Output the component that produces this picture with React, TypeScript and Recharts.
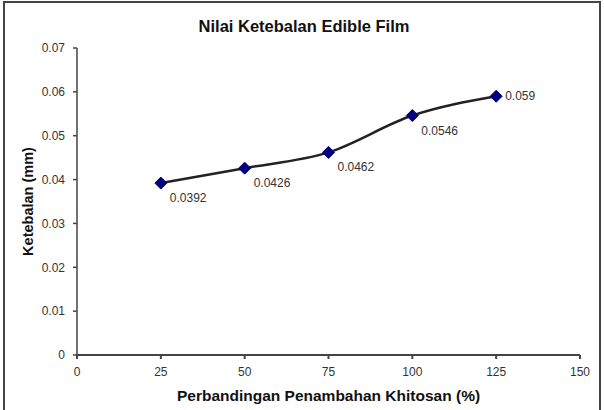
import { LineChart, Line, XAxis, YAxis, LabelList, Label } from "recharts";

const xValues = [25, 50, 75, 100, 125];
const thickness = [0.0392, 0.0426, 0.0462, 0.0546, 0.059];
const xTicks = [0, 25, 50, 75, 100, 125, 150];
const yTicks = [0, 0.01, 0.02, 0.03, 0.04, 0.05, 0.06, 0.07];

const data = xValues.map((x, i) => ({ x, value: thickness[i] }));

const FONT = '"Liberation Sans", Arial, sans-serif';
const INK = "#333333";

function Diamond(props: any) {
  const { cx, cy } = props;
  if (cx == null || cy == null) return null;
  const r = 6;
  return (
    <polygon
      points={`${cx},${cy - r} ${cx + r},${cy} ${cx},${cy + r} ${cx - r},${cy}`}
      fill="#000080"
      stroke="#000080"
      strokeWidth={1}
    />
  );
}

function PointLabel(props: any) {
  const { x, y, value, index } = props;
  const last = index === data.length - 1;
  return (
    <text
      x={x + (last ? 9 : 9)}
      y={y + (last ? 4 : 19)}
      fill={INK}
      fontSize={12}
      fontFamily={FONT}
    >
      {value}
    </text>
  );
}

export default function App() {
  return (
    <div
      style={{
        position: "absolute",
        left: 0,
        top: 0,
        width: 604,
        height: 410,
        overflow: "hidden",
        background: "#fff",
        fontFamily: FONT,
      }}
    >
      <div
        style={{
          position: "absolute",
          left: 3,
          top: 1,
          width: 594,
          height: 440,
          border: "2px solid #444",
          boxSizing: "content-box",
        }}
      />
      <div
        style={{
          position: "absolute",
          left: 0,
          top: 17,
          width: 608,
          textAlign: "center",
          fontWeight: "bold",
          fontSize: 16.5,
          color: "#111",
        }}
      >
        Nilai Ketebalan Edible Film
      </div>
      <div style={{ position: "absolute", left: 0, top: 0 }}>
        <LineChart
          width={604}
          height={410}
          data={data}
          margin={{ top: 48, right: 24, bottom: 25, left: 10 }}
        >
          <XAxis
            dataKey="x"
            type="number"
            domain={[0, 150]}
            ticks={xTicks}
            height={30}
            stroke="#444"
            strokeWidth={2}
            tickSize={4}
            tickMargin={8}
            tick={{ fill: INK, fontSize: 12, fontFamily: FONT }}
          >
            <Label
              value="Perbandingan Penambahan Khitosan (%)"
              position="bottom"
              offset={5}
              fill="#111"
              fontSize={15.5}
              fontWeight="bold"
              fontFamily={FONT}
            />
          </XAxis>
          <YAxis
            type="number"
            domain={[0, 0.07]}
            ticks={yTicks}
            width={67}
            stroke="#444"
            strokeWidth={1.5}
            tickSize={4}
            tickMargin={8}
            tick={{ fill: INK, fontSize: 12, fontFamily: FONT }}
          >
            <Label
              content={(p: any) => {
                const vb = p.viewBox;
                const cx = vb.x + 18;
                const cy = vb.y + vb.height / 2;
                return (
                  <text
                    x={cx}
                    y={cy}
                    transform={`rotate(-90 ${cx} ${cy})`}
                    textAnchor="middle"
                    dominantBaseline="central"
                    fill="#111"
                    fontSize={14.5}
                    fontWeight="bold"
                    fontFamily={FONT}
                  >
                    Ketebalan (mm)
                  </text>
                );
              }}
            />
          </YAxis>
          <Line
            type="monotone"
            dataKey="value"
            stroke="#222"
            strokeWidth={2.5}
            dot={<Diamond />}
            activeDot={false}
            isAnimationActive={false}
          >
            <LabelList dataKey="value" content={<PointLabel />} />
          </Line>
        </LineChart>
      </div>
    </div>
  );
}
